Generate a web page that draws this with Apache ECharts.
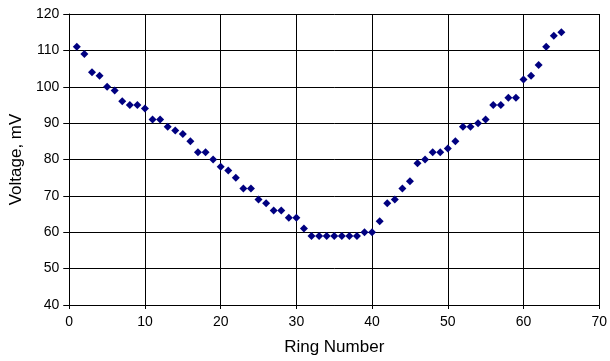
<!DOCTYPE html>
<html>
<head>
<meta charset="utf-8">
<script src="https://cdn.jsdelivr.net/npm/echarts@6/dist/echarts.min.js"></script>
<style>html,body{margin:0;padding:0;background:#fff}#c{width:610px;height:361px}</style>
</head>
<body>
<div id="c"></div>
<script>
var ringNumbers = [1,2,3,4,5,6,7,8,9,10,11,12,13,14,15,16,17,18,19,20,21,22,23,24,25,26,27,28,29,30,31,32,33,34,35,36,37,38,39,40,41,42,43,44,45,46,47,48,49,50,51,52,53,54,55,56,57,58,59,60,61,62,63,64,65];
var voltages = [111,109,104,103,100,99,96,95,95,94,91,91,89,88,87,85,82,82,80,78,77,75,72,72,69,68,66,66,64,64,61,59,59,59,59,59,59,59,60,60,63,68,69,72,74,79,80,82,82,83,85,89,89,90,91,95,95,97,97,102,103,106,111,114,115];

var points = ringNumbers.map(function (x, i) { return [x, voltages[i]]; });
var font = 'Liberation Sans, Arial, sans-serif';
var chart = echarts.init(document.getElementById('c'), null, {renderer: 'canvas'});
chart.setOption({
  backgroundColor: '#fff',
  animation: false,
  grid: {left: 68, right: 10, top: 14, bottom: 53, containLabel: false},
  xAxis: {
    type: 'value', min: 0, max: 70, interval: 10,
    name: 'Ring Number', nameLocation: 'middle', nameGap: 34,
    nameTextStyle: {color: '#000', fontSize: 17, fontFamily: font},
    axisLine: {show: true, onZero: false, lineStyle: {color: '#000', width: 1}},
    axisTick: {show: true, inside: false, length: 4, lineStyle: {color: '#000'}},
    axisLabel: {color: '#000', fontSize: 14, fontFamily: font, margin: 10},
    splitLine: {show: true, lineStyle: {color: '#000', width: 1}}
  },
  yAxis: {
    type: 'value', min: 40, max: 120, interval: 10,
    name: 'Voltage, mV', nameLocation: 'middle', nameGap: 43, nameRotate: 90,
    nameTextStyle: {color: '#000', fontSize: 17, fontFamily: font},
    axisLine: {show: true, onZero: false, lineStyle: {color: '#000', width: 1}},
    axisTick: {show: true, inside: false, length: 6, lineStyle: {color: '#000'}},
    axisLabel: {color: '#000', fontSize: 14, fontFamily: font, margin: 10},
    splitLine: {show: true, lineStyle: {color: '#000', width: 1}}
  },
  series: [{
    type: 'scatter',
    data: points,
    symbol: 'diamond',
    symbolSize: [8, 8],
    itemStyle: {color: '#000080', opacity: 1}
  }]
});
</script>
</body>
</html>
